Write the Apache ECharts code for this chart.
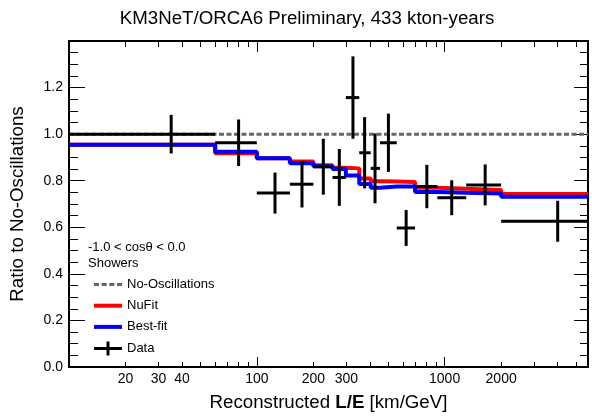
<!DOCTYPE html>
<html>
<head>
<meta charset="utf-8">
<script src="https://cdn.jsdelivr.net/npm/echarts@6/dist/echarts.min.js"></script>
<style>
  html, body { margin: 0; padding: 0; background: #fff; }
</style>
</head>
<body>
<div id="chart" style="width: 592px; height: 417px;"></div>
<script>
// bin edges in L/E (km/GeV)
const binEdges = [10, 60, 100, 150, 200, 253, 298, 351, 404, 453, 556, 696, 915, 1303, 2000, 5800];

// model ratios per bin
const nufit   = [0.954, 0.918, 0.897, 0.882, 0.866, 0.856, 0.853, 0.810, 0.798, 0.797, 0.794, 0.770, 0.765, 0.760, 0.743];
const bestfit = [0.954, 0.924, 0.897, 0.875, 0.862, 0.850, 0.822, 0.786, 0.770, 0.775, 0.775, 0.752, 0.748, 0.745, 0.731];

// data points (x position, ratio, error)
const dataX   = [35, 80, 125, 174, 226, 275, 325, 375, 426, 502, 624, 804, 1091, 1644, 4000];
const dataY   = [1.0, 0.963, 0.747, 0.785, 0.86, 0.814, 1.157, 0.92, 0.853, 0.963, 0.597, 0.775, 0.727, 0.782, 0.626];
const dataErr = [0.083, 0.10, 0.088, 0.10, 0.12, 0.122, 0.177, 0.153, 0.15, 0.125, 0.077, 0.093, 0.075, 0.088, 0.088];

// tick labels / ticks on the log axis
const xLabels = [20, 30, 40, 100, 200, 300, 1000, 2000];
const xMinor  = [20, 30, 40, 50, 60, 70, 80, 90, 200, 300, 400, 500, 600, 700, 800, 900, 2000, 3000, 4000, 5000];
const xMajor  = [100, 1000];

const FONT = 'Liberation Sans, Arial, Helvetica, sans-serif';
const xMin = binEdges[0], xMax = binEdges[binEdges.length - 1];

// step line points (step: 'end')
const stepData = (vals) => {
  const pts = vals.map((v, i) => [binEdges[i], v]);
  pts.push([binEdges[vals.length], vals[vals.length - 1]]);
  return pts;
};

const chart = echarts.init(document.getElementById('chart'));

const logAxis = (pos, tickVals, len, extra) => Object.assign({
  type: 'log',
  logBase: 10,
  position: pos,
  min: xMin,
  max: xMax,
  axisLine: { show: false },
  axisTick: { show: true, inside: true, length: len, customValues: tickVals, lineStyle: { color: '#000', width: 1 } },
  axisLabel: { show: false },
  splitLine: { show: false },
  minorTick: { show: false },
  minorSplitLine: { show: false }
}, extra || {});

const option = {
  animation: false,
  textStyle: { fontFamily: FONT },
  title: [
    {
      text: 'KM3NeT/ORCA6 Preliminary, 433 kton-years',
      left: 307,
      top: 9,
      textAlign: 'center',
      padding: 0,
      textStyle: { fontFamily: FONT, fontSize: 18.7, fontWeight: 'normal', color: '#000' }
    },
    {
      text: '-1.0 < cosθ < 0.0\nShowers',
      left: 88,
      top: 239,
      padding: 0,
      textStyle: { fontFamily: FONT, fontSize: 13, fontWeight: 'normal', color: '#000', lineHeight: 16 }
    }
  ],
  legend: {
    orient: 'vertical',
    left: 94,
    top: 278,
    padding: 0,
    itemWidth: 28,
    itemHeight: 14,
    itemGap: 8.2,
    selectedMode: false,
    textStyle: { fontFamily: FONT, fontSize: 13, color: '#000' },
    data: [
      { name: 'No-Oscillations', icon: 'path://M0,0H5V3H0Z M7.5,0H12.5V3H7.5Z M15,0H20V3H15Z M22.5,0H27.5V3H22.5Z' },
      { name: 'NuFit', icon: 'path://M0,0H28V4H0Z' },
      { name: 'Best-fit', icon: 'path://M0,0H28V4H0Z' },
      { name: 'Data', icon: 'path://M0,5.5H28V8.5H0Z M12.5,0H15.5V14H12.5Z' }
    ]
  },
  grid: {
    left: 69,
    right: 4,
    top: 41,
    bottom: 48,
    show: true,
    borderColor: '#000',
    borderWidth: 2,
    backgroundColor: 'transparent'
  },
  xAxis: [
    logAxis('bottom', xMinor, 5, {
      axisLabel: {
        show: true,
        customValues: xLabels,
        margin: 5,
        fontFamily: FONT,
        fontSize: 14,
        color: '#000',
        formatter: (v) => String(Math.round(v))
      },
      name: 'Reconstructed {b|L/E} [km/GeV]',
      nameLocation: 'middle',
      nameGap: 26,
      nameTextStyle: {
        fontFamily: FONT, fontSize: 18.7, color: '#000',
        rich: { b: { fontFamily: FONT, fontSize: 18.7, fontWeight: 'bold', color: '#000' } }
      }
    }),
    logAxis('bottom', xMajor, 10),
    logAxis('top', xMinor, 6),
    logAxis('top', xMajor, 11)
  ],
  yAxis: [
    {
      type: 'value',
      position: 'left',
      min: 0,
      max: 1.4,
      interval: 0.2,
      axisLine: { show: false },
      axisTick: { show: true, inside: true, length: 16, lineStyle: { color: '#000' } },
      minorTick: { show: true, splitNumber: 4, length: 9, lineStyle: { color: '#000' } },
      splitLine: { show: false },
      axisLabel: {
        margin: 6,
        fontFamily: FONT,
        fontSize: 14,
        color: '#000',
        showMaxLabel: false,
        formatter: (v) => v.toFixed(1)
      },
      name: 'Ratio to No-Oscillations',
      nameLocation: 'middle',
      nameGap: 42,
      nameTextStyle: { fontFamily: FONT, fontSize: 18.7, color: '#000' }
    },
    {
      type: 'value',
      position: 'right',
      min: 0,
      max: 1.4,
      interval: 0.2,
      axisLine: { show: false },
      axisTick: { show: true, inside: true, length: 14, lineStyle: { color: '#000' } },
      minorTick: { show: true, splitNumber: 4, length: 8, lineStyle: { color: '#000' } },
      splitLine: { show: false },
      axisLabel: { show: false }
    }
  ],
  series: [
    {
      name: 'NuFit',
      type: 'line',
      step: 'end',
      symbol: 'none',
      z: 2,
      data: stepData(nufit),
      lineStyle: { color: '#ff0000', width: 4 },
      itemStyle: { color: '#ff0000' }
    },
    {
      name: 'Best-fit',
      type: 'line',
      step: 'end',
      symbol: 'none',
      z: 3,
      data: stepData(bestfit),
      lineStyle: { color: '#0000ff', width: 4 },
      itemStyle: { color: '#0000ff' }
    },
    {
      name: 'No-Oscillations',
      type: 'line',
      symbol: 'none',
      z: 4,
      data: [[xMin, 1.0], [xMax, 1.0]],
      lineStyle: { color: '#666666', width: 3, type: [5, 2.5] },
      itemStyle: { color: '#666666' }
    },
    {
      name: 'Data',
      type: 'custom',
      z: 5,
      itemStyle: { color: '#000' },
      encode: { x: [0, 1, 2], y: 3 },
      data: dataX.map((x, i) => [binEdges[i], binEdges[i + 1], x, dataY[i], dataErr[i]]),
      renderItem: (params, api) => {
        const y = api.value(3), e = api.value(4), xc = api.value(2);
        const a = api.coord([api.value(0), y]);
        const b = api.coord([api.value(1), y]);
        const top = api.coord([xc, y + e]);
        const bot = api.coord([xc, y - e]);
        const st = { stroke: '#000', lineWidth: 3 };
        return {
          type: 'group',
          children: [
            { type: 'line', shape: { x1: a[0], y1: a[1], x2: b[0], y2: b[1] }, style: st },
            { type: 'line', shape: { x1: top[0], y1: top[1], x2: bot[0], y2: bot[1] }, style: st }
          ]
        };
      }
    }
  ]
};

chart.setOption(option);
</script>
</body>
</html>
